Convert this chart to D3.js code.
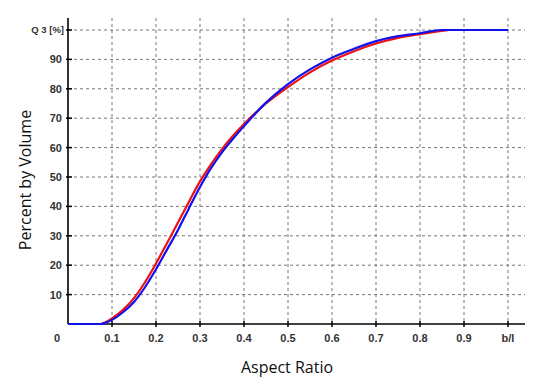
<!DOCTYPE html>
<html><head><meta charset="utf-8">
<script src="https://cdn.jsdelivr.net/npm/d3@7"></script>
<style>body{margin:0;background:#fff}svg{display:block}</style>
</head><body>
<script>
const xTicks = [0.1,0.2,0.3,0.4,0.5,0.6,0.7,0.8,0.9,1.0];
const xTickLabels = ["0.1","0.2","0.3","0.4","0.5","0.6","0.7","0.8","0.9","b/l"];
const yTicks = [10,20,30,40,50,60,70,80,90];
const redX = [0,0.075,0.085,0.1,0.125,0.15,0.175,0.2,0.225,0.25,0.275,0.3,0.325,0.35,0.375,0.4,0.45,0.5,0.55,0.6,0.65,0.7,0.75,0.8,0.84,0.864];
const redY = [0,0,0.6,1.9,4.8,8.8,14.2,20.6,27.5,34.5,41.6,48.5,54.3,59.5,64,68,75,80.6,85.6,89.6,92.8,95.4,97.3,98.6,99.5,100];
const blueX = [0,0.075,0.085,0.1,0.125,0.15,0.175,0.2,0.225,0.25,0.275,0.3,0.325,0.35,0.375,0.4,0.45,0.5,0.55,0.6,0.65,0.7,0.75,0.8,0.849,1.0];
const blueY = [0,0,0.4,1.4,4.0,7.5,12.5,18.6,25.3,32,39.4,46.6,53,58.4,63,67.3,75.3,81.6,86.6,90.6,93.6,96.2,97.9,98.9,100,100];

const W=546,H=392;
const svg=d3.select("body").append("svg").attr("width",W).attr("height",H);
const x=d3.scaleLinear().domain([0,1]).range([68,508]);
const y=d3.scaleLinear().domain([0,100]).range([324,30]);
const gridTop=18, gridRight=525;
const lab="'Liberation Sans',Arial,sans-serif";

// grid
svg.append("g").selectAll("line").data(xTicks).join("line")
  .attr("x1",d=>x(d)).attr("x2",d=>x(d)).attr("y1",gridTop).attr("y2",y(0))
  .attr("stroke","#777").attr("stroke-width",1).attr("stroke-dasharray","3,3");
svg.append("g").selectAll("line").data(yTicks.concat([100])).join("line")
  .attr("x1",x(0)).attr("x2",gridRight).attr("y1",d=>y(d)).attr("y2",d=>y(d))
  .attr("stroke","#777").attr("stroke-width",1).attr("stroke-dasharray","3,3");

// axes lines
svg.append("line").attr("x1",x(0)).attr("x2",x(0)).attr("y1",gridTop).attr("y2",y(0)).attr("stroke","#000").attr("stroke-width",1.6);
svg.append("line").attr("x1",x(0)).attr("x2",gridRight).attr("y1",y(0)).attr("y2",y(0)).attr("stroke","#000").attr("stroke-width",1.6);
// tick marks
svg.append("g").selectAll("line").data(xTicks).join("line")
  .attr("x1",d=>x(d)).attr("x2",d=>x(d)).attr("y1",y(0)-3).attr("y2",y(0)+3).attr("stroke","#000").attr("stroke-width",1.5);
svg.append("g").selectAll("line").data(yTicks.concat([100])).join("line")
  .attr("x1",x(0)-2).attr("x2",x(0)+4).attr("y1",d=>y(d)).attr("y2",d=>y(d)).attr("stroke","#000").attr("stroke-width",1.5);

// tick labels
svg.append("g").selectAll("text").data(xTicks).join("text")
  .attr("x",d=>x(d)).attr("y",342).attr("text-anchor","middle")
  .style("font-family",lab).style("font-size","11px").style("font-weight","bold").attr("fill","#333")
  .text((d,i)=>xTickLabels[i]);
svg.append("g").selectAll("text").data(yTicks).join("text")
  .attr("x",62).attr("y",d=>y(d)+4).attr("text-anchor","end")
  .style("font-family",lab).style("font-size","11px").style("font-weight","bold").attr("fill","#333")
  .text(d=>d);
svg.append("text").attr("x",57).attr("y",342).attr("text-anchor","middle")
  .style("font-family",lab).style("font-size","11px").style("font-weight","bold").attr("fill","#333").text("0");
svg.append("text").attr("x",64).attr("y",y(100)+3).attr("text-anchor","end")
  .style("font-family",lab).style("font-size","9.5px").style("font-weight","bold").attr("fill","#333").text("Q 3 [%]");

// axis titles
svg.append("text").attr("x",287).attr("y",373).attr("text-anchor","middle")
  .style("font-family","'Open Sans','Noto Sans',sans-serif").style("font-size","16px").attr("fill","#111").text("Aspect Ratio");
svg.append("text").attr("transform","translate(31,180) rotate(-90)").attr("text-anchor","middle")
  .style("font-family","'Open Sans','Noto Sans',sans-serif").style("font-size","16px").attr("fill","#111").text("Percent by Volume");

// curves
const line=d3.line().x(d=>x(d[0])).y(d=>y(d[1])).curve(d3.curveMonotoneX);
svg.append("path").datum(redX.map((v,i)=>[v,redY[i]])).attr("d",line)
  .attr("fill","none").attr("stroke","#ee1111").attr("stroke-width",2.2).attr("stroke-linejoin","round");
svg.append("path").datum(blueX.map((v,i)=>[v,blueY[i]])).attr("d",line)
  .attr("fill","none").attr("stroke","#1111ee").attr("stroke-width",2.2).attr("stroke-linejoin","round");
</script>
</body></html>
